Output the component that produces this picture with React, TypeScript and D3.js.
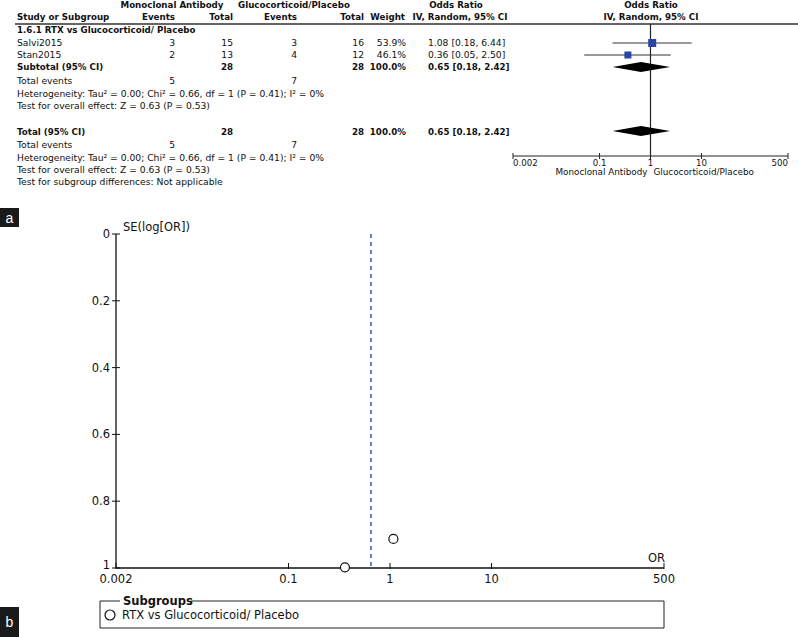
import * as d3 from 'd3';
import { useEffect, useRef } from 'react';

// table values
const studies = ['Salvi2015', 'Stan2015'];
const monoEvents = [3, 2];
const monoTotal = [15, 13];
const glucoEvents = [3, 4];
const glucoTotal = [16, 12];
const weights = ['53.9%', '46.1%'];
const orValues = [1.08, 0.36];
const ciLow = [0.18, 0.05];
const ciHigh = [6.44, 2.50];
const pooledOR = 0.65;
const pooledLow = 0.18;
const pooledHigh = 2.42;
const totalEvents = [5, 7];
const totals = [28, 28];
const orTicks = [0.002, 0.1, 1, 10, 500];
// funnel plot
const seValues = [0.913, 0.998];
const seTicks = [0, 0.2, 0.4, 0.6, 0.8, 1];

const FONT = 'DejaVu Sans';
const REG = 9.2;
const BOLD = 8.7;

export default function App() {
  const svgRef = useRef<SVGSVGElement>(null);

  useEffect(() => {
    drawChart(svgRef.current);
  }, []);

  return (
    <svg ref={svgRef} width={798} height={637}
      style={{ position: 'absolute', left: 0, top: 0, background: '#fff' }} />
  );
}

function drawChart(el: SVGSVGElement | null) {
  if (!el) return;
  const svg = d3.select(el);
  svg.selectAll('*').remove();
  svg.attr('font-family', FONT).attr('fill', '#111');

  const txt = (x: number, y: number, s: string, anchor = 'start', bold = false, size?: number) =>
    svg.append('text').attr('x', x).attr('y', y).attr('text-anchor', anchor)
      .attr('font-weight', bold ? 'bold' : 'normal')
      .attr('font-size', size ?? (bold ? BOLD : REG)).text(s);

  // ---- panel a: table ----
  txt(172, 8, 'Monoclonal Antibody', 'middle', true);
  txt(294, 8, 'Glucocorticoid/Placebo', 'middle', true);
  txt(456, 8, 'Odds Ratio', 'middle', true);
  txt(651, 8, 'Odds Ratio', 'middle', true);
  txt(17, 20, 'Study or Subgroup', 'start', true);
  txt(175, 20, 'Events', 'end', true);
  txt(233, 20, 'Total', 'end', true);
  txt(297, 20, 'Events', 'end', true);
  txt(364, 20, 'Total', 'end', true);
  txt(405, 20, 'Weight', 'end', true);
  txt(460, 20, 'IV, Random, 95% CI', 'middle', true);
  txt(651, 20, 'IV, Random, 95% CI', 'middle', true);

  svg.append('line').attr('x1', 15).attr('x2', 798).attr('y1', 24).attr('y2', 24)
    .attr('stroke', '#333').attr('stroke-width', 1.5);

  txt(17, 33, '1.6.1 RTX vs Glucocorticoid/ Placebo', 'start', true);

  const rowY = [46, 58];
  studies.forEach((s, i) => {
    const y = rowY[i];
    txt(17, y, s);
    txt(175, y, String(monoEvents[i]), 'end');
    txt(233, y, String(monoTotal[i]), 'end');
    txt(297, y, String(glucoEvents[i]), 'end');
    txt(364, y, String(glucoTotal[i]), 'end');
    txt(406, y, weights[i], 'end');
    txt(428, y, `${orValues[i].toFixed(2)} [${ciLow[i].toFixed(2)}, ${ciHigh[i].toFixed(2)}]`);
  });

  const pooledText = `${pooledOR.toFixed(2)} [${pooledLow.toFixed(2)}, ${pooledHigh.toFixed(2)}]`;
  const summaryBlock = (yTop: number, label: string) => {
    txt(17, yTop, label, 'start', true);
    txt(233, yTop, String(totals[0]), 'end', true);
    txt(364, yTop, String(totals[1]), 'end', true);
    txt(406, yTop, '100.0%', 'end', true);
    txt(428, yTop, pooledText, 'start', true);
  };
  const statsBlock = (y0: number) => {
    txt(17, y0, 'Total events');
    txt(175, y0, String(totalEvents[0]), 'end');
    txt(297, y0, String(totalEvents[1]), 'end');
    txt(17, y0 + 13, 'Heterogeneity: Tau² = 0.00; Chi² = 0.66, df = 1 (P = 0.41); I² = 0%');
    txt(17, y0 + 25, 'Test for overall effect: Z = 0.63 (P = 0.53)');
  };
  summaryBlock(70, 'Subtotal (95% CI)');
  statsBlock(84);
  summaryBlock(135, 'Total (95% CI)');
  statsBlock(148);
  txt(17, 185, 'Test for subgroup differences: Not applicable');

  // forest plot
  const fx = d3.scaleLog().domain([0.002, 500]).range([513, 788]);
  const axisY = 156;
  svg.append('line').attr('x1', fx(1)).attr('x2', fx(1)).attr('y1', 24).attr('y2', axisY)
    .attr('stroke', '#222').attr('stroke-width', 1.2);
  studies.forEach((_, i) => {
    const y = rowY[i] - 3;
    svg.append('line').attr('x1', fx(ciLow[i])).attr('x2', fx(ciHigh[i]))
      .attr('y1', y).attr('y2', y).attr('stroke', '#333').attr('stroke-width', 1);
    const sz = i === 0 ? 8 : 7;
    svg.append('rect').attr('x', fx(orValues[i]) - sz / 2).attr('y', y - sz / 2)
      .attr('width', sz).attr('height', sz).attr('fill', '#2a45a6');
  });
  const diamond = (cy: number) => {
    const pts: [number, number][] = [
      [fx(pooledLow), cy], [fx(pooledOR), cy - 5], [fx(pooledHigh), cy], [fx(pooledOR), cy + 5],
    ];
    svg.append('path').attr('d', d3.line()(pts) + 'Z').attr('fill', '#000');
  };
  diamond(67);
  diamond(131);

  svg.append('line').attr('x1', 513).attr('x2', 788).attr('y1', axisY).attr('y2', axisY)
    .attr('stroke', '#222').attr('stroke-width', 1);
  orTicks.forEach((t, i) => {
    svg.append('line').attr('x1', fx(t)).attr('x2', fx(t)).attr('y1', axisY - 3).attr('y2', axisY + 3)
      .attr('stroke', '#222');
    const anchor = i === 0 ? 'start' : i === orTicks.length - 1 ? 'end' : 'middle';
    txt(fx(t), axisY + 9.5, String(t), anchor, false, 8.6);
  });
  txt(fx(1) - 3, axisY + 19, 'Monoclonal Antibody', 'end', false, 8.8);
  txt(fx(1) + 3, axisY + 19, 'Glucocorticoid/Placebo', 'start', false, 8.8);

  // panel labels
  const panelLabel = (y: number, h: number, s: string) => {
    svg.append('rect').attr('x', 0).attr('y', y).attr('width', 19).attr('height', h).attr('fill', '#1a1a1a');
    svg.append('text').attr('x', 9.5).attr('y', y + h / 2 + 5).attr('text-anchor', 'middle')
      .attr('fill', '#fff').attr('font-size', 14).attr('font-family', 'Liberation Sans').text(s);
  };
  panelLabel(208, 19, 'a');
  panelLabel(607, 30, 'b');

  // ---- panel b: funnel plot ----
  const x = d3.scaleLog().domain([0.002, 500]).range([116, 664]);
  const y = d3.scaleLinear().domain([0, 1]).range([234, 568]);
  const fs = 11.5;

  svg.append('line').attr('x1', x(0.002)).attr('x2', x(0.002)).attr('y1', y(0)).attr('y2', y(1))
    .attr('stroke', '#111').attr('stroke-width', 1.3);
  seTicks.forEach(t => {
    svg.append('line').attr('x1', x(0.002) - 4).attr('x2', x(0.002) + 4).attr('y1', y(t)).attr('y2', y(t))
      .attr('stroke', '#111');
    txt(x(0.002) - 6, y(t) + (t === 1 ? 1 : 4), String(t), 'end', false, fs);
  });
  txt(x(0.002) + 7, y(0) - 3, 'SE(log[OR])', 'start', false, fs);

  svg.append('line').attr('x1', x(0.002)).attr('x2', x(500)).attr('y1', y(1)).attr('y2', y(1))
    .attr('stroke', '#111').attr('stroke-width', 1.3);
  orTicks.forEach(t => {
    svg.append('line').attr('x1', x(t)).attr('x2', x(t)).attr('y1', y(1) - 5).attr('y2', y(1) + 1)
      .attr('stroke', '#111');
    txt(x(t), y(1) + 15, String(t), 'middle', false, fs);
  });
  txt(x(500) + 1, y(1) - 6, 'OR', 'end', false, fs);

  svg.append('line').attr('x1', x(pooledOR)).attr('x2', x(pooledOR)).attr('y1', y(0)).attr('y2', y(1))
    .attr('stroke', '#3b4fc8').attr('stroke-width', 1.5).attr('stroke-dasharray', '4,4');

  orValues.forEach((v, i) => {
    svg.append('circle').attr('cx', x(v)).attr('cy', y(seValues[i])).attr('r', 4.5)
      .attr('fill', '#fff').attr('stroke', '#111').attr('stroke-width', 1.2);
  });

  // legend
  svg.append('path')
    .attr('d', `M120,601 H100 V628 H664 V601 H${123 + 68}`)
    .attr('fill', 'none').attr('stroke', '#222').attr('stroke-width', 1);
  txt(123, 605, 'Subgroups', 'start', true, fs);
  svg.append('circle').attr('cx', 110).attr('cy', 615).attr('r', 5)
    .attr('fill', '#fff').attr('stroke', '#111').attr('stroke-width', 1.2);
  txt(122, 619, 'RTX vs Glucocorticoid/ Placebo', 'start', false, fs);
}
